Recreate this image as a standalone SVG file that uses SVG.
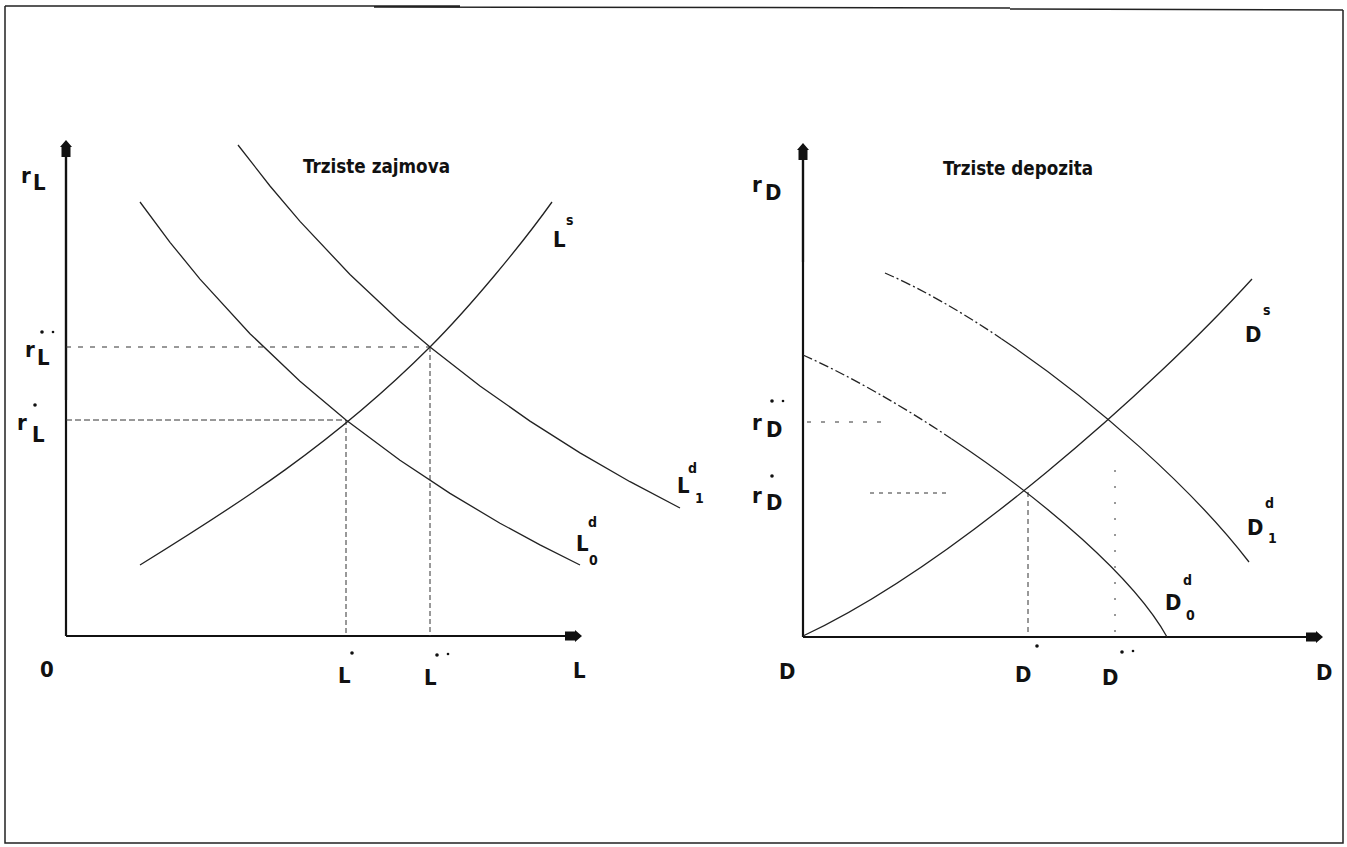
<svg xmlns="http://www.w3.org/2000/svg" xmlns:xlink="http://www.w3.org/1999/xlink" width="1347" height="847" viewBox="0 0 1347 847">
<style>
.frame{fill:none;stroke:#222;stroke-width:1.5}
.axis{fill:none;stroke:#111;stroke-width:2.2}
.curve{fill:none;stroke:#222;stroke-width:1.3}
.broken{stroke-dasharray:10 3 2 3}
.dash{fill:none;stroke:#333;stroke-width:1}
.lab{font-family:"DejaVu Sans Condensed","DejaVu Sans",sans-serif;font-weight:bold;font-size:22px;fill:#111}
.sm{font-size:14px}
.ttl{font-family:"DejaVu Sans Condensed","DejaVu Sans",sans-serif;font-weight:bold;font-size:19px;fill:#111}
.dot{fill:#111}
</style>
<defs>
<path id="arr" d="M0,-8 L6,-1 L4.5,-1 L4.5,9 L-4.5,9 L-4.5,-1 L-6,-1 Z" fill="#111"/>
</defs>
<rect width="1347" height="847" fill="#fff"/>
<g id="frame">
<path class="frame" d="M5,6 L460,6 M374,7 L1010,8 M1010,9 L1343,10 M1343,10 L1343,843 L5,843 L5,6"/>
</g>
<g id="left-chart">
<g id="axes-left">
<line class="axis" x1="66" y1="636" x2="66" y2="150" stroke-width="2.2"/>
<line class="axis" x1="66" y1="400" x2="66" y2="150" stroke-width="3"/>
<line class="axis" x1="66" y1="636" x2="568" y2="636"/>
<use xlink:href="#arr" transform="translate(66,148)"/>
<use xlink:href="#arr" transform="translate(574,636) rotate(90)"/>
</g>
<g id="connectors-left">
<path class="dash" d="M66,347 L430,347" stroke-dasharray="5 7"/>
<path class="dash" d="M66,420 L346,420" stroke-dasharray="6 3"/>
<path class="dash" d="M346,420 L346,636" stroke-dasharray="5 3"/>
<path class="dash" d="M430,347 L430,636" stroke-dasharray="5 3"/>
</g>
<g id="Ls">
<path class="curve" d="M140,565 C237,505 333,444 430,347 C470,307 522,244 552,202"/>
<text class="lab" x="553" y="247">L</text>
<text class="lab sm" x="566" y="225" font-size="12">s</text>
</g>
<g id="L0d">
<polyline class="curve" points="140,202 170,242.3 200,279.1 250,333.7 300,381.3 346,420 400,460.3 450,493.4 500,523.2 540,544.9 580,565"/>
<text class="lab" x="576" y="551">L</text>
<text class="lab sm" x="588" y="527">d</text>
<text class="lab sm" x="589" y="565">0</text>
</g>
<g id="L1d">
<polyline class="curve" points="238,145 270,186 300,221.4 350,274.5 400,321.4 430,347 480,386 530,421.1 580,452.9 630,481.7 680,508"/>
<text class="lab" x="677" y="493">L</text>
<text class="lab sm" x="688" y="473">d</text>
<text class="lab sm" x="695" y="503">1</text>
</g>
<g id="title-left"><text class="ttl" x="303" y="173" textLength="147" lengthAdjust="spacingAndGlyphs">Trziste zajmova</text></g>
<g id="labels-left">
<text class="lab" x="21" y="183">r</text><text class="lab" x="33" y="190">L</text>
<text class="lab" x="25" y="357">r</text><text class="lab" x="37" y="365">L</text>
<circle class="dot" cx="42" cy="332" r="1.8"/><circle class="dot" cx="53" cy="332" r="1.3"/>
<text class="lab" x="17" y="430">r</text><text class="lab" x="32" y="442">L</text>
<circle class="dot" cx="35" cy="405" r="1.8"/>
<text class="lab" x="40" y="677">0</text>
<text class="lab" x="338" y="683">L</text><circle class="dot" cx="352" cy="653" r="1.8"/>
<text class="lab" x="424" y="685">L</text><circle class="dot" cx="437" cy="655" r="1.8"/><circle class="dot" cx="448" cy="654" r="1.3"/>
<text class="lab" x="573" y="678">L</text>
</g>
</g>
<g id="right-chart">
<g id="axes-right">
<line class="axis" x1="803" y1="637" x2="803" y2="152" stroke-width="2.2"/>
<line class="axis" x1="803" y1="262" x2="803" y2="152" stroke-width="3"/>
<line class="axis" x1="803" y1="637" x2="1309" y2="637"/>
<use xlink:href="#arr" transform="translate(803,151)"/>
<use xlink:href="#arr" transform="translate(1315,637) rotate(90)"/>
</g>
<g id="connectors-right">
<path class="dash" d="M807,422 L888,422" stroke-dasharray="4 10"/>
<path class="dash" d="M870,493 L950,493" stroke-dasharray="4 5"/>
<path class="dash" d="M1028,492 L1028,636" stroke-dasharray="5 4"/>
<path class="dash" d="M1115,470 L1115,634" stroke-dasharray="2 14"/>
</g>
<g id="Ds">
<path class="curve" d="M803,636 C953,566 1152,389 1252,279"/>
<text class="lab" x="1245" y="342">D</text>
<text class="lab sm" x="1263" y="315" font-size="12">s</text>
</g>
<g id="D0d">
<path class="curve broken" d="M803,355 C848.5,375.3 900.6,404.9 951.4,438.7"/>
<path class="curve" d="M951.4,438.7 C1045.5,501.1 1134.5,578.5 1167,637"/>
<text class="lab" x="1165" y="610">D</text>
<text class="lab sm" x="1183" y="585">d</text>
<text class="lab sm" x="1186" y="620">0</text>
</g>
<g id="D1d">
<path class="curve broken" d="M885,273 C921,288.6 961,311.5 1001.4,338.7"/>
<path class="curve" d="M1001.4,338.7 C1095.8,402.2 1193,489.2 1249,562"/>
<text class="lab" x="1247" y="535">D</text>
<text class="lab sm" x="1265" y="508">d</text>
<text class="lab sm" x="1268" y="543">1</text>
</g>
<g id="title-right"><text class="ttl" x="943" y="175" textLength="150" lengthAdjust="spacingAndGlyphs">Trziste depozita</text></g>
<g id="labels-right">
<text class="lab" x="752" y="192">r</text><text class="lab" x="765" y="200">D</text>
<text class="lab" x="752" y="430">r</text><text class="lab" x="766" y="437">D</text>
<circle class="dot" cx="772" cy="401" r="1.8"/><circle class="dot" cx="783" cy="401" r="1.3"/>
<text class="lab" x="752" y="503">r</text><text class="lab" x="766" y="510">D</text>
<circle class="dot" cx="772" cy="476" r="1.8"/>
<text class="lab" x="779" y="679">D</text>
<text class="lab" x="1015" y="682">D</text><circle class="dot" cx="1037" cy="646" r="1.8"/>
<text class="lab" x="1102" y="685">D</text><circle class="dot" cx="1122" cy="652" r="1.8"/><circle class="dot" cx="1133" cy="651" r="1.3"/>
<text class="lab" x="1316" y="680">D</text>
</g>
</g>
</svg>
